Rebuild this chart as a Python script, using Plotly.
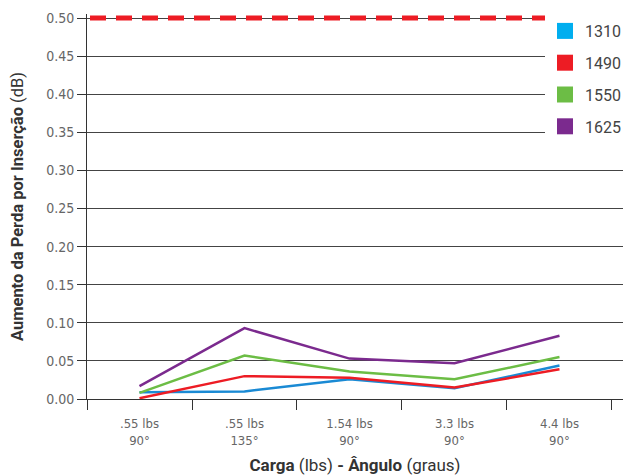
import plotly.graph_objects as go

categories = [".55 lbs<br>90°", ".55 lbs<br>135°", "1.54 lbs<br>90°", "3.3 lbs<br>90°", "4.4 lbs<br>90°"]
series_names = ["1310", "1490", "1550", "1625"]
v1310 = [0.009, 0.010, 0.026, 0.014, 0.044]
v1490 = [0.001, 0.030, 0.028, 0.015, 0.039]
v1550 = [0.008, 0.057, 0.036, 0.026, 0.055]
v1625 = [0.017, 0.093, 0.053, 0.047, 0.083]
limit_value = 0.50
y_ticks = [0.00, 0.05, 0.10, 0.15, 0.20, 0.25, 0.30, 0.35, 0.40, 0.45, 0.50]

line_colors = ["#1a8ad4", "#ed1c24", "#6cbd45", "#7b2a8e"]
legend_colors = ["#00aeef", "#ed1c24", "#6cbd45", "#7b2a8e"]
values = [v1310, v1490, v1550, v1625]

tick_font = "DejaVu Sans Condensed, Roboto, sans-serif"
title_font = "Roboto, Noto Sans, sans-serif"

fig = go.Figure()
for name, vals, lc in zip(series_names, values, line_colors):
    fig.add_trace(go.Scatter(x=categories, y=vals, mode="lines", name=name,
                             line=dict(color=lc, width=2.5), showlegend=False,
                             hoverinfo="skip"))
for i, (name, lc) in enumerate(zip(series_names, legend_colors)):
    fig.add_trace(go.Scatter(x=[None], y=[None], mode="markers", name=name,
                             marker=dict(symbol="square", size=17, color=lc),
                             legendgroup="g%d" % i, showlegend=True))

fig.add_shape(type="line", xref="paper", yref="y", x0=0.0056, x1=1, y0=limit_value, y1=limit_value,
              line=dict(color="#ed1c24", width=5, dash="16px,10px"), layer="above")

# page body has an 8px margin, so the figure is 8px smaller than the window
fig.update_layout(
    width=623, height=467,
    margin=dict(l=79, r=8, t=6, b=76, autoexpand=False),
    plot_bgcolor="white", paper_bgcolor="white",
    showlegend=True,
    legend=dict(x=(537 - 79) / 536, y=1.0, xanchor="left", yanchor="top",
                bgcolor="white", font=dict(family="Roboto, sans-serif", size=16, color="#444"),
                tracegroupgap=8, itemsizing="trace"),
    xaxis=dict(type="category", tickson="boundaries", range=[-0.5, 4.605], automargin=False,
               showgrid=False, showline=True, linecolor="#333", linewidth=1,
               ticks="outside", ticklen=10, tickcolor="#333", tickwidth=1,
               ticklabelstandoff=12,
               tickfont=dict(family=tick_font, size=13, color="#666"),
               title=dict(text="<b>Carga</b> (lbs) <b>- Ângulo</b> (graus)",
                          font=dict(family=title_font, size=17, color="#333"), standoff=22)),
    yaxis=dict(range=[0, 0.50525], tickvals=y_ticks, ticktext=["%.2f" % t for t in y_ticks],
               automargin=False,
               showgrid=True, gridcolor="#444", gridwidth=1, zeroline=False,
               showline=True, linecolor="#333", linewidth=1,
               ticks="outside", ticklen=9, tickcolor="#333",
               tickfont=dict(family=tick_font, size=14, color="#666"),
               title=dict(text="<b>Aumento da Perda por Inserção</b> (dB)",
                          font=dict(family=title_font, size=16.5, color="#333"), standoff=22)),
)

fig.write_html("out.html")
